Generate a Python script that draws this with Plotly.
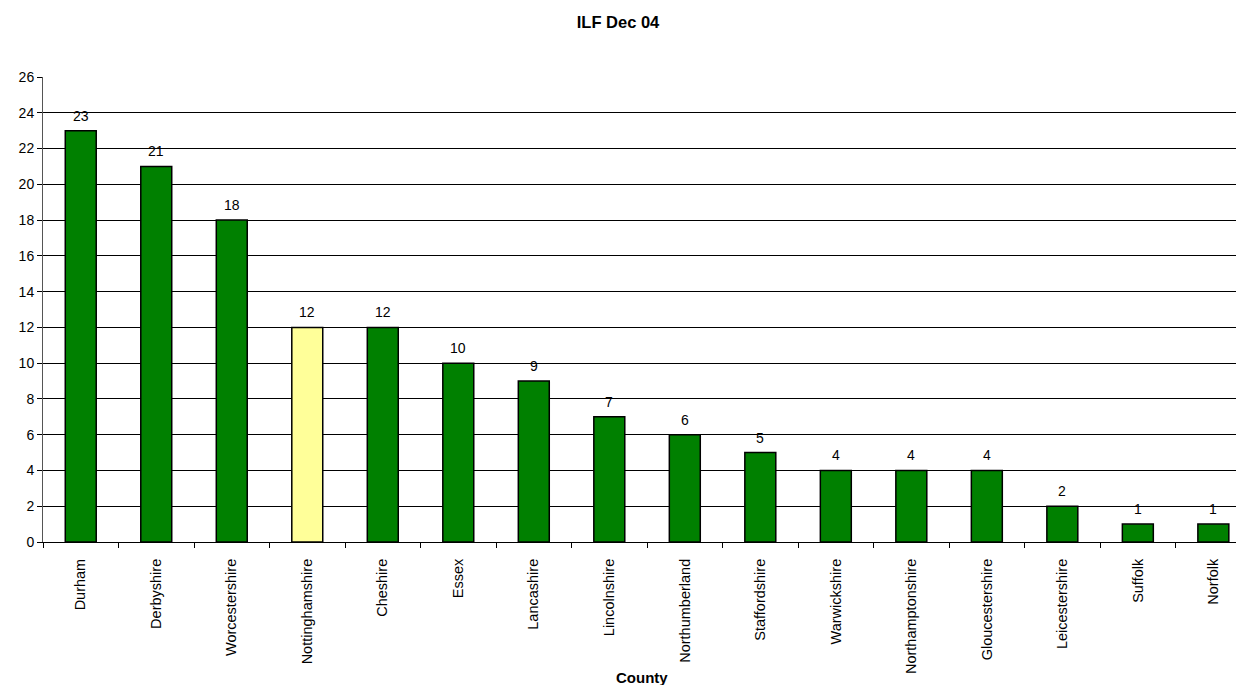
import plotly.graph_objects as go

counties = ["Durham", "Derbyshire", "Worcestershire", "Nottinghamshire", "Cheshire",
            "Essex", "Lancashire", "Lincolnshire", "Northumberland", "Staffordshire",
            "Warwickshire", "Northamptonshire", "Gloucestershire", "Leicestershire",
            "Suffolk", "Norfolk"]
values = [23, 21, 18, 12, 12, 10, 9, 7, 6, 5, 4, 4, 4, 2, 1, 1]
highlight = "Nottinghamshire"

colors = ["#FFFF99" if c == highlight else "#008000" for c in counties]

FONT = "Liberation Sans, Arial"

fig = go.Figure(go.Bar(
    x=counties, y=values,
    marker=dict(color=colors, line=dict(color="black", width=1.5)),
    width=0.41,
    cliponaxis=False,
))

# data labels above each bar
for c, v in zip(counties, values):
    fig.add_annotation(x=c, y=v, text=str(v), showarrow=False,
                       yanchor="bottom", yshift=5,
                       font=dict(family=FONT, size=14, color="black"))

fig.update_layout(
    width=1236, height=685,
    margin=dict(l=43, r=0, t=77, b=143),
    plot_bgcolor="white", paper_bgcolor="white",
    font=dict(family=FONT, size=13, color="black"),
    title=dict(text="<b>ILF Dec 04</b>", x=0.5, xref="container", y=1 - 22/685,
               yanchor="middle", font=dict(size=16.5)),
    showlegend=False,
)
fig.update_xaxes(
    range=[-0.5, 15.3],
    tickangle=-90, tickson="boundaries", ticks="outside", ticklen=5, tickcolor="black",
    ticklabelstandoff=10,
    showline=True, linecolor="black", linewidth=1,
    showgrid=False,
    tickfont=dict(size=14.5),
)
fig.update_yaxes(
    range=[0, 26], dtick=2, tickmode="linear",
    ticks="outside", ticklen=5, tickcolor="black",
    showline=True, linecolor="#555555", linewidth=1,
    showgrid=True, gridcolor="black", gridwidth=1,
    zeroline=False,
    tickfont=dict(size=14),
)
fig.add_annotation(text="<b>County</b>", xref="paper", x=(642-43)/1193,
                   yref="paper", y=-(677-542)/(542-77), yanchor="middle",
                   showarrow=False, font=dict(size=15))

fig.write_html("out.html")
